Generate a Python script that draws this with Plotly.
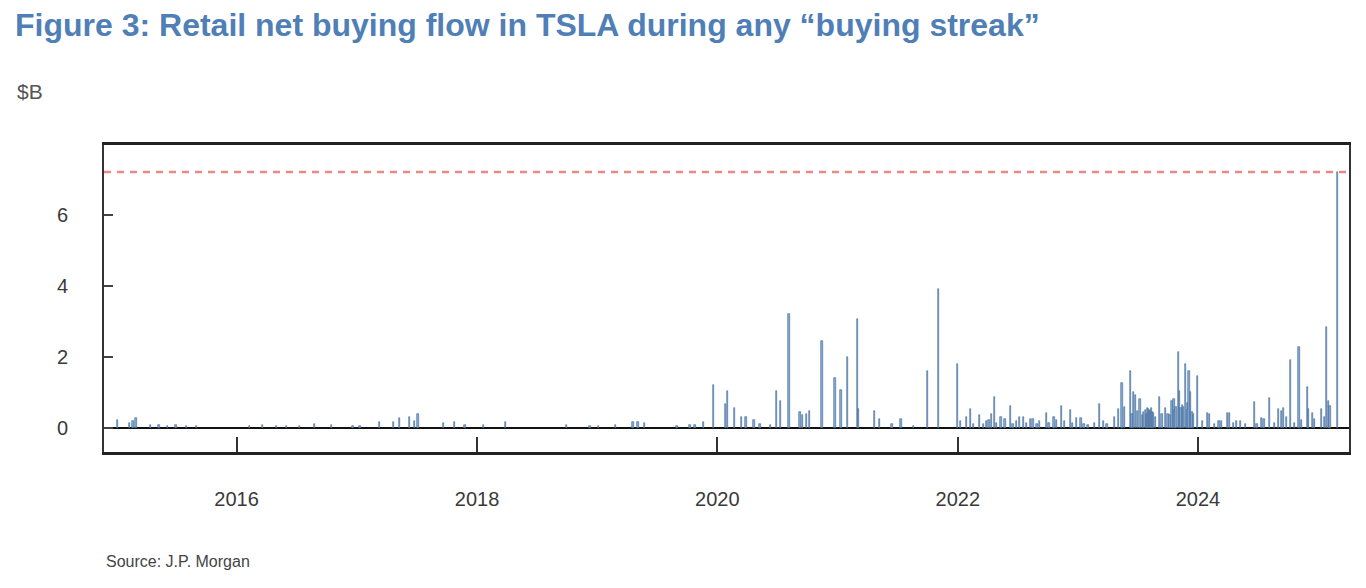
import plotly.graph_objects as go

# retail net buying flow during "buying streaks", $B
dates_2015_19 = ["2015-01-05", "2015-02-10", "2015-02-20", "2015-03-01", "2015-04-15", "2015-05-10",
                 "2015-06-05", "2015-07-01", "2015-08-01", "2015-09-01", "2016-02-10", "2016-03-20",
                 "2016-05-01", "2016-06-01", "2016-07-10", "2016-08-25", "2016-10-15", "2016-12-20",
                 "2017-01-10", "2017-03-10", "2017-04-22", "2017-05-10", "2017-06-10", "2017-06-25",
                 "2017-07-05", "2017-09-20", "2017-10-25", "2017-11-25", "2018-01-20", "2018-03-28",
                 "2018-09-30", "2018-12-10", "2019-01-05", "2019-02-25", "2019-04-20", "2019-05-05",
                 "2019-05-25", "2019-09-01", "2019-10-10", "2019-10-25", "2019-11-20", "2019-12-20"]
flow_2015_19 = [0.21, 0.14, 0.18, 0.28, 0.08, 0.07,
                0.06, 0.07, 0.06, 0.05, 0.04, 0.08,
                0.06, 0.05, 0.04, 0.11, 0.09, 0.05,
                0.06, 0.16, 0.16, 0.28, 0.30, 0.20,
                0.39, 0.14, 0.16, 0.07, 0.07, 0.16,
                0.09, 0.05, 0.05, 0.09, 0.16, 0.16,
                0.14, 0.05, 0.09, 0.09, 0.16, 1.20]

dates_2020_21 = ["2020-01-25", "2020-02-01", "2020-02-22", "2020-03-15", "2020-03-28", "2020-04-22",
                 "2020-05-10", "2020-06-10", "2020-06-28", "2020-07-12", "2020-08-06", "2020-09-08",
                 "2020-09-16", "2020-09-28", "2020-10-08", "2020-11-14", "2020-12-24", "2021-01-11",
                 "2021-01-30", "2021-03-03", "2021-03-06", "2021-04-22", "2021-05-08", "2021-06-15",
                 "2021-07-12", "2021-08-20", "2021-10-01", "2021-11-03", "2021-12-31"]
flow_2020_21 = [0.68, 1.05, 0.56, 0.30, 0.30, 0.21,
                0.10, 0.08, 1.05, 0.77, 3.22, 0.44,
                0.35, 0.40, 0.47, 2.44, 1.41, 1.07,
                2.00, 3.08, 0.54, 0.47, 0.25, 0.10,
                0.25, 0.05, 1.59, 3.91, 1.79]

dates_2022_23 = ["2022-01-10", "2022-01-27", "2022-02-09", "2022-02-18", "2022-03-07", "2022-03-20",
                 "2022-03-29", "2022-04-06", "2022-04-14", "2022-04-22", "2022-04-28", "2022-05-12",
                 "2022-05-24", "2022-06-10", "2022-06-18", "2022-06-28", "2022-07-08", "2022-07-20",
                 "2022-07-29", "2022-08-10", "2022-08-18", "2022-08-30", "2022-09-07", "2022-09-27",
                 "2022-10-05", "2022-10-20", "2022-10-28", "2022-11-13", "2022-11-22", "2022-12-09",
                 "2022-12-16", "2022-12-28",
                 "2023-01-10", "2023-01-20", "2023-02-01", "2023-02-20", "2023-03-07", "2023-03-20",
                 "2023-03-30", "2023-04-22", "2023-05-05", "2023-05-15", "2023-05-22", "2023-06-09",
                 "2023-06-14", "2023-06-20", "2023-06-26", "2023-07-02", "2023-07-09", "2023-07-16",
                 "2023-07-20", "2023-07-25", "2023-07-28", "2023-08-01", "2023-08-04", "2023-08-06",
                 "2023-08-09", "2023-08-12", "2023-08-15", "2023-08-18", "2023-08-24", "2023-09-06",
                 "2023-09-14", "2023-09-25", "2023-10-02", "2023-10-08", "2023-10-14", "2023-10-20",
                 "2023-10-23", "2023-10-26", "2023-11-03", "2023-11-06", "2023-11-10", "2023-11-15",
                 "2023-11-19", "2023-11-24", "2023-11-30", "2023-12-02", "2023-12-05", "2023-12-10",
                 "2023-12-14", "2023-12-18", "2023-12-30"]
flow_2022_23 = [0.20, 0.32, 0.53, 0.12, 0.37, 0.10,
                0.18, 0.23, 0.39, 0.88, 0.15, 0.32,
                0.24, 0.62, 0.12, 0.20, 0.30, 0.30,
                0.14, 0.24, 0.24, 0.10, 0.18, 0.43,
                0.14, 0.32, 0.22, 0.63, 0.18, 0.51,
                0.15, 0.27,
                0.27, 0.12, 0.08, 0.15, 0.68, 0.18,
                0.10, 0.32, 0.53, 1.26, 0.58, 1.61,
                0.40, 1.02, 0.92, 0.48, 0.82, 0.35,
                0.45, 0.50, 0.40, 0.55, 0.52, 0.48,
                0.50, 0.55, 0.45, 0.42, 0.30, 0.86,
                0.38, 0.55, 0.40, 0.35, 0.77, 0.82,
                0.50, 0.60, 2.15, 1.05, 0.55, 0.65,
                0.60, 1.80, 0.70, 0.50, 1.59, 1.00,
                0.45, 0.40, 1.46]

dates_2024_25 = ["2024-01-15", "2024-01-30", "2024-02-06", "2024-02-20", "2024-03-05", "2024-03-12",
                 "2024-03-30", "2024-04-06", "2024-04-18", "2024-04-28", "2024-05-10", "2024-05-25",
                 "2024-06-20", "2024-06-28", "2024-07-12", "2024-07-20", "2024-08-05", "2024-08-20",
                 "2024-09-01", "2024-09-10", "2024-09-16", "2024-09-25", "2024-10-08", "2024-10-20",
                 "2024-11-03", "2024-11-10", "2024-11-28", "2024-12-01", "2024-12-15", "2024-12-20",
                 "2025-01-10", "2025-01-20", "2025-01-26", "2025-02-01", "2025-02-05", "2025-02-28"]
flow_2024_25 = [0.20, 0.43, 0.40, 0.12, 0.20, 0.18,
                0.43, 0.43, 0.15, 0.20, 0.20, 0.10,
                0.74, 0.12, 0.28, 0.25, 0.84, 0.15,
                0.52, 0.47, 0.56, 0.30, 1.90, 0.15,
                2.29, 0.23, 1.14, 0.52, 0.42, 0.25,
                0.53, 0.30, 2.85, 0.75, 0.61, 7.21]

dates = dates_2015_19 + dates_2020_21 + dates_2022_23 + dates_2024_25
flows = flow_2015_19 + flow_2020_21 + flow_2022_23 + flow_2024_25

W, H = 1358, 580  # page body adds an 8px margin

fig = go.Figure()
fig.add_trace(go.Bar(x=dates, y=flows, width=4 * 86400000,
                     marker=dict(color="#86acd6", line=dict(color="#3f6794", width=0.6))))

# dotted line at the record streak
fig.add_shape(type="line", xref="paper", x0=0, x1=1, y0=max(flows), y1=max(flows),
              line=dict(color="#e98a88", width=2.5, dash="7px,6px"))

fig.update_layout(
    width=W, height=H,
    margin=dict(l=96, r=17, t=137, b=136),
    paper_bgcolor="white", plot_bgcolor="white",
    showlegend=False, bargap=0,
    font=dict(family="Liberation Sans, Arial, sans-serif", color="#3a3a3a", size=20),
    title=dict(text="<b>Figure 3: Retail net buying flow in TSLA during any \u201cbuying streak\u201d</b>",
               xref="container", yref="container", x=7 / W, y=1 - 17 / H,
               xanchor="left", yanchor="middle",
               font=dict(size=32, color="#4f7fb6")),
)
fig.update_xaxes(type="date", range=["2014-11-24", "2025-04-04"],
                 tick0="2016-01-01", dtick="M24", tickformat="%Y",
                 ticks="inside", ticklen=15, tickwidth=2, tickcolor="#333333",
                 ticklabelstandoff=27, showgrid=False,
                 showline=True, linecolor="#222222", linewidth=3, mirror=True)
fig.update_yaxes(range=[-0.68, 7.97], tickvals=[0, 2, 4, 6],
                 ticks="inside", ticklen=9, tickwidth=2, tickcolor="#444444",
                 ticklabelstandoff=30, showgrid=False,
                 zeroline=True, zerolinecolor="#111111", zerolinewidth=2,
                 showline=True, linecolor="#333333", linewidth=2, mirror=True)

fig.add_annotation(text="$B", xref="paper", yref="paper", x=-0.0715, y=1.173,
                   xanchor="left", yanchor="middle", showarrow=False,
                   font=dict(size=21, color="#555555"))
fig.add_annotation(text="Source: J.P. Morgan", xref="paper", yref="paper", x=0.0, y=-0.358,
                   xanchor="left", yanchor="middle", showarrow=False,
                   font=dict(size=16, color="#444444"))

fig.write_html("out.html")
